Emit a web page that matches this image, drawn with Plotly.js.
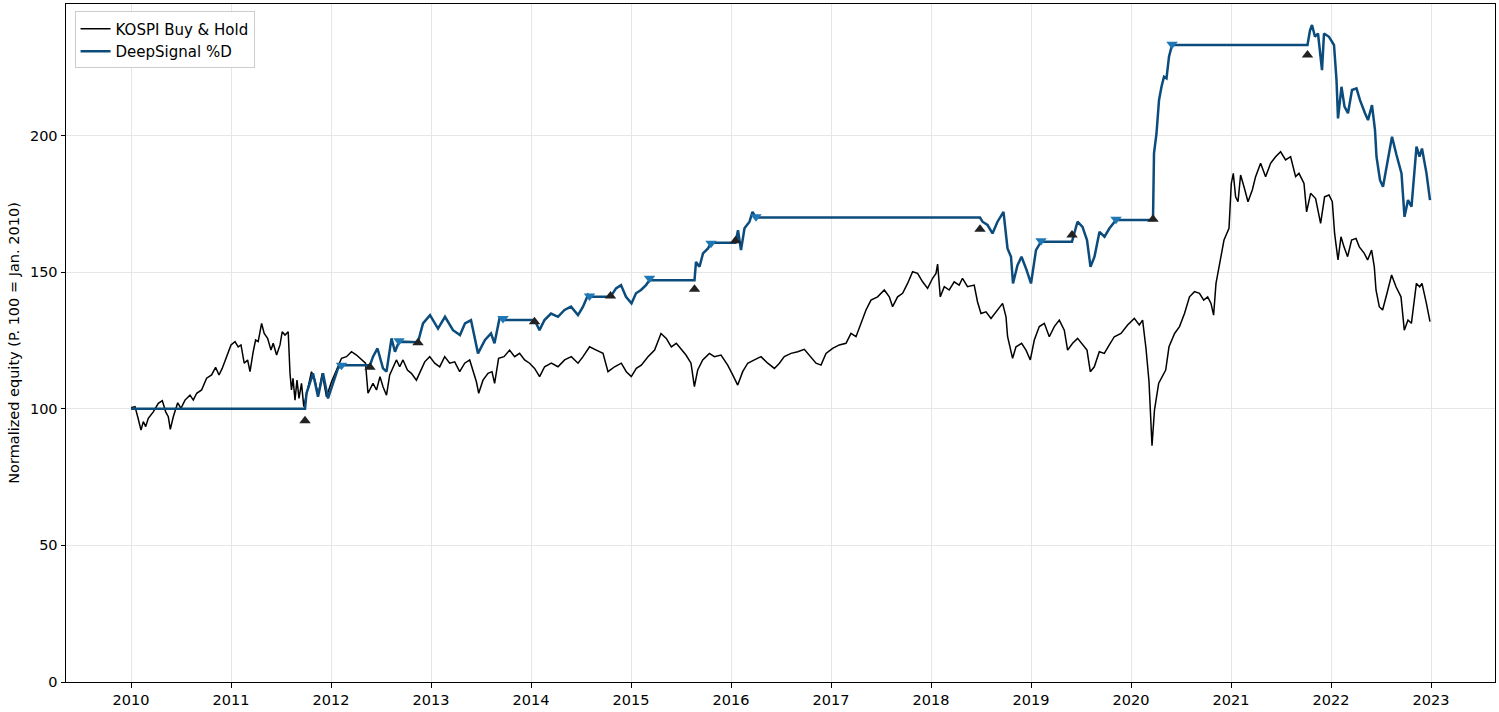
<!DOCTYPE html>
<html>
<head>
<meta charset="utf-8">
<script src="https://cdn.plot.ly/plotly-3.0.1.min.js"></script>
<style>html,body{margin:0;padding:0;background:#fff;}#chart{width:1499px;height:712px;}</style>
</head>
<body>
<div id="chart"></div>
<script>
// KOSPI Buy & Hold (normalized, 100 = Jan. 2010), dates as decimal years
const kospiDates = [2010.00,2010.04,2010.067,2010.10,2010.123,2010.147,2010.173,2010.223,2010.273,2010.313,2010.347,2010.373,2010.393,2010.423,2010.467,2010.50,2010.54,2010.59,2010.623,2010.657,2010.706,2010.756,2010.806,2010.846,2010.88,2010.912,2010.956,
2011.00,2011.04,2011.072,2011.10,2011.132,2011.166,2011.19,2011.222,2011.246,2011.272,2011.306,2011.332,2011.366,2011.40,2011.422,2011.456,2011.49,2011.512,2011.54,2011.572,2011.59,2011.605,2011.62,2011.64,2011.66,2011.68,2011.705,2011.728,2011.755,2011.805,2011.84,2011.872,2011.912,2011.955,
2012.005,2012.055,2012.105,2012.155,2012.205,2012.255,2012.305,2012.345,2012.37,2012.42,2012.455,2012.49,2012.52,2012.555,2012.587,2012.62,2012.654,2012.687,2012.72,2012.764,2012.804,2012.854,2012.887,2012.937,2012.987,
2013.037,2013.087,2013.137,2013.187,2013.237,2013.287,2013.337,2013.387,2013.42,2013.454,2013.477,2013.52,2013.57,2013.61,2013.636,2013.676,2013.73,2013.786,2013.836,2013.886,2013.936,2013.986,
2014.036,2014.086,2014.136,2014.203,2014.27,2014.336,2014.403,2014.47,2014.52,2014.586,2014.653,2014.72,2014.77,2014.836,2014.903,2014.953,
2015.003,2015.053,2015.103,2015.17,2015.236,2015.30,2015.353,2015.403,2015.453,2015.50,2015.55,2015.60,2015.634,2015.667,2015.717,2015.784,2015.834,2015.90,2015.967,
2016.017,2016.067,2016.117,2016.167,2016.234,2016.30,2016.367,2016.434,2016.484,2016.533,2016.60,2016.667,2016.733,2016.80,2016.85,2016.90,2016.95,
2017.016,2017.083,2017.15,2017.20,2017.25,2017.30,2017.35,2017.40,2017.466,2017.533,2017.583,2017.616,2017.666,2017.716,2017.766,2017.816,2017.866,2017.916,2017.966,
2018.016,2018.05,2018.066,2018.093,2018.133,2018.182,2018.232,2018.282,2018.315,2018.365,2018.432,2018.465,2018.50,2018.55,2018.60,2018.666,2018.716,2018.75,2018.766,2018.816,2018.85,2018.906,2018.95,2018.993,
2019.033,2019.083,2019.133,2019.183,2019.233,2019.283,2019.333,2019.366,2019.416,2019.466,2019.516,2019.56,2019.593,2019.633,2019.683,2019.733,2019.783,2019.833,2019.90,2019.966,
2020.033,2020.083,2020.116,2020.15,2020.18,2020.21,2020.235,2020.277,2020.347,2020.38,2020.436,2020.485,2020.535,2020.585,2020.635,2020.685,2020.727,2020.767,2020.80,2020.826,2020.85,2020.88,2020.93,2020.98,
2021.003,2021.023,2021.046,2021.07,2021.096,2021.13,2021.17,2021.213,2021.246,2021.296,2021.346,2021.396,2021.446,2021.496,2021.546,2021.596,2021.646,2021.68,2021.73,2021.756,2021.796,2021.846,2021.896,2021.936,2021.98,
2022.013,2022.036,2022.07,2022.10,2022.13,2022.166,2022.206,2022.25,2022.283,2022.333,2022.366,2022.406,2022.433,2022.45,2022.483,2022.516,2022.56,2022.606,2022.65,2022.70,2022.733,2022.77,2022.804,2022.854,2022.887,2022.91,2022.954,2022.99];
const kospiValues = [100.4,100.8,97.1,92.2,95.3,93.5,96.5,98.9,102.0,103.0,98.9,97.1,92.5,97.1,102.2,100.2,103.2,105.0,103.2,105.7,106.9,111.2,112.4,115.2,112.4,114.8,119.1,
123.4,124.6,122.7,123.4,116.7,117.9,113.6,120.9,125.2,124.6,131.3,127.6,125.8,121.5,124.0,119.7,123.4,128.2,127.0,128.2,113.0,106.9,111.2,103.2,110.5,103.8,109.3,100.8,105.0,113.6,110.5,105.0,113.0,104.4,
109.9,114.2,118.5,119.1,120.9,119.7,117.9,116.7,105.7,109.3,106.9,111.8,108.1,105.0,112.4,115.4,117.9,115.4,117.9,114.2,113.0,110.5,113.0,117.2,119.1,
116.7,115.4,119.1,116.7,117.2,113.6,116.7,117.9,114.2,109.9,105.7,110.5,113.0,113.6,109.3,118.5,119.1,121.5,119.1,120.3,117.9,116.7,
114.8,111.8,115.4,116.7,115.4,117.9,119.1,116.7,119.1,122.7,121.5,120.3,113.6,115.4,116.7,113.6,
111.8,114.8,116.0,119.1,121.5,127.6,125.8,122.7,124.0,122.1,119.7,116.7,108.1,114.2,117.9,120.3,119.1,119.7,116.0,
112.4,108.7,113.6,116.7,117.9,119.1,116.7,114.8,116.7,119.1,120.3,120.9,121.8,119.1,116.7,116.0,120.3,
122.1,123.4,124.0,127.6,126.4,131.3,136.2,139.8,141.0,143.5,141.0,137.4,141.0,142.3,145.9,150.2,149.6,146.5,144.1,
147.8,149.6,153.0,141.0,144.7,143.5,146.5,145.3,147.8,144.7,145.3,139.2,134.9,135.5,133.1,136.2,138.6,133.7,126.4,118.5,122.7,124.0,121.5,117.9,
125.2,130.1,131.3,126.4,130.1,132.5,128.8,121.5,124.0,125.8,123.4,121.5,113.6,115.4,120.9,120.3,123.4,126.4,127.6,130.7,
133.1,130.7,132.5,122.1,110.0,86.5,99.6,109.4,114.2,122.7,127.6,130.1,134.9,141.0,142.9,142.3,139.8,141.0,138.6,134.3,145.9,152.0,161.8,166.1,
182.5,186.2,177.6,175.8,185.6,181.3,175.8,180.1,185.0,189.9,185.0,189.9,192.3,194.1,191.1,192.3,185.0,186.2,182.5,172.1,178.9,177.0,167.9,177.6,178.3,
175.8,164.2,154.5,163.0,159.3,155.7,161.8,162.4,159.3,156.9,154.5,158.1,152.0,143.5,137.4,136.2,142.3,149.0,144.7,141.0,128.8,132.5,131.3,145.9,144.7,145.9,138.6,131.9];

// DeepSignal %D equity curve
const dsDates = [2010.00,2011.74,2011.755,2011.82,2011.87,2011.92,2011.97,2012.02,2012.07,2012.105,
2012.39,2012.42,2012.465,2012.52,2012.555,2012.605,2012.64,2012.68,
2012.87,2012.92,2012.99,2013.07,2013.14,2013.22,2013.29,2013.34,2013.40,2013.47,2013.54,2013.60,2013.635,2013.685,2013.72,
2014.035,2014.085,2014.135,2014.20,2014.27,2014.335,2014.40,2014.47,2014.52,2014.57,2014.585,
2014.795,2014.85,2014.90,2014.95,2015.005,2015.05,2015.10,2015.15,2015.185,
2015.635,2015.65,2015.685,2015.72,2015.77,2015.80,
2016.045,2016.07,2016.10,2016.135,2016.185,2016.215,2016.25,
2018.49,2018.515,2018.565,2018.615,2018.665,2018.725,2018.765,2018.80,2018.82,2018.865,2018.905,2018.95,2019.00,2019.05,2019.10,
2019.41,2019.465,2019.515,2019.56,2019.595,2019.635,2019.685,2019.735,2019.785,2019.85,
2020.22,2020.23,2020.255,2020.28,2020.305,2020.33,2020.355,2020.38,2020.41,
2021.765,2021.79,2021.81,2021.84,2021.87,2021.91,2021.93,2021.98,2022.03,2022.055,2022.07,2022.105,2022.135,2022.17,2022.21,2022.255,2022.29,2022.34,2022.37,2022.41,2022.44,2022.455,2022.49,2022.52,2022.565,2022.61,2022.655,2022.705,2022.735,2022.77,2022.805,2022.855,2022.885,2022.91,2022.955,2022.99];
const dsValues = [100,100,105.7,113.0,104.4,113.0,103.8,109.3,114.8,116.0,
116.0,119.1,122.1,114.8,113.6,125.8,120.9,124.6,
124.4,131.3,134.3,129.4,133.7,128.8,127.0,131.3,132.5,120.3,125.2,127.6,124.0,133.1,132.5,
132.5,128.8,132.5,134.9,133.7,136.2,137.4,134.3,137.4,141.7,141.0,
141.0,144.1,145.3,141.0,138.6,142.3,143.5,145.3,147.1,
147.1,153.8,152.0,156.9,158.7,160.8,
160.8,165.4,158.1,166.1,168.5,172.1,170.0,
170.0,168.5,167.3,164.2,168.5,172.1,158.7,155.7,145.9,152.6,155.7,151.4,145.9,158.1,161.2,
161.2,168.5,166.6,161.8,152.0,155.7,164.8,163.0,166.1,169.1,
169.1,193.5,200.8,213.0,217.9,221.6,221.0,228.9,233.2,
233.2,238.6,240.5,236.2,237.4,224.0,237.4,236.2,233.2,220.4,206.3,217.9,210.6,208.2,216.7,217.3,213.0,208.2,205.7,211.2,202.0,192.3,183.7,181.3,189.9,199.6,192.9,186.2,170.3,176.4,174.0,196.0,192.3,195.3,186.2,176.4];

// Signals
const buyDates = [2011.74,2012.39,2012.87,2014.035,2014.795,2015.635,2016.045,2018.49,2019.41,2020.22,2021.765];
const buyValues = [95.6,115.2,124.2,131.9,141.3,143.8,161.5,165.7,163.6,169.4,229.5];
const sellDates = [2012.105,2012.68,2013.72,2014.585,2015.185,2015.80,2016.25,2019.10,2019.85,2020.41];
const sellValues = [116.0,124.9,133.1,141.3,147.8,160.6,170.3,161.5,169.4,233.5];

const yearTicks = [2010,2011,2012,2013,2014,2015,2016,2017,2018,2019,2020,2021,2022,2023];
const yearLabels = yearTicks.map(String);
const yTicks = [0,50,100,150,200];

const traces = [
  {x: kospiDates, y: kospiValues, type: 'scatter', mode: 'lines', name: 'KOSPI Buy & Hold',
   line: {color: '#000000', width: 1.5}},
  {x: dsDates, y: dsValues, type: 'scatter', mode: 'lines', name: 'DeepSignal %D',
   line: {color: '#0c4c7d', width: 2.5}},
  {x: buyDates, y: buyValues, type: 'scatter', mode: 'markers', showlegend: false,
   marker: {symbol: 'triangle-up', size: 10, color: '#222222'}},
  {x: sellDates, y: sellValues, type: 'scatter', mode: 'markers', showlegend: false,
   marker: {symbol: 'triangle-down', size: 10, color: '#1f77b4'}}
];

const FONT = 'DejaVu Sans';
const axisCommon = {
  showline: true, mirror: true, linecolor: '#000', linewidth: 1,
  ticks: 'outside', ticklen: 4.5, tickcolor: '#000',
  showgrid: true, gridcolor: '#e6e6e6', gridwidth: 1, zeroline: false,
  tickfont: {family: FONT, size: 14.5, color: '#000'}
};

const layout = {
  width: 1499, height: 712,
  margin: {l: 66, r: 4, t: 4, b: 30},
  paper_bgcolor: '#fff', plot_bgcolor: '#fff',
  font: {family: FONT, size: 14.5, color: '#000'},
  xaxis: Object.assign({}, axisCommon, {
    range: [2009.35, 2023.64], tickvals: yearTicks, ticktext: yearLabels
  }),
  yaxis: Object.assign({}, axisCommon, {
    range: [0, 248.2], tickvals: yTicks,
    title: {text: 'Normalized equity (P. 100 = Jan. 2010)', font: {family: FONT, size: 14.5, color: '#000'}, standoff: 6}
  }),
  legend: {x: 0.006, y: 0.989, xanchor: 'left', yanchor: 'top',
    bgcolor: 'rgba(255,255,255,0.9)', bordercolor: '#cccccc', borderwidth: 1,
    font: {family: FONT, size: 15, color: '#000'}, tracegroupgap: 0, itemwidth: 30},
  showlegend: true
};

Plotly.newPlot('chart', traces, layout, {displayModeBar: false, staticPlot: true});
</script>
</body>
</html>
